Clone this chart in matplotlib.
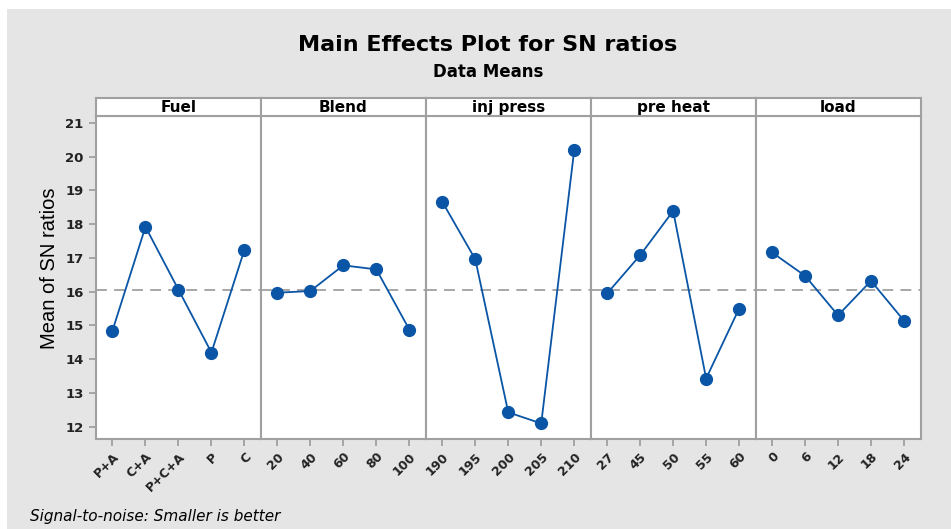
import numpy as np
import matplotlib.pyplot as plt
from matplotlib.patches import Rectangle

# data
factors = ["Fuel", "Blend", "inj press", "pre heat", "load"]
levels = [
    ["P+A", "C+A", "P+C+A", "P", "C"],
    ["20", "40", "60", "80", "100"],
    ["190", "195", "200", "205", "210"],
    ["27", "45", "50", "55", "60"],
    ["0", "6", "12", "18", "24"],
]
fuel_sn = [14.85, 17.92, 16.06, 14.20, 17.24]
blend_sn = [15.97, 16.02, 16.78, 16.66, 14.88]
injpress_sn = [18.66, 16.96, 12.43, 12.10, 20.19]
preheat_sn = [15.95, 17.08, 18.39, 13.43, 15.50]
load_sn = [17.16, 16.47, 15.30, 16.32, 15.14]
grand_mean = 16.06

series = [fuel_sn, blend_sn, injpress_sn, preheat_sn, load_sn]

W, H = 951, 529
fig = plt.figure(figsize=(W / 100, H / 100), dpi=100)
fig.patch.set_facecolor("white")

# gray backdrop
bg = Rectangle((7 / W, 0), 1 - 7 / W, 1 - 9 / H, transform=fig.transFigure,
               facecolor="#e5e5e5", edgecolor="none", zorder=-10)
fig.patches.append(bg)

gray = "#a0a0a0"
blue = "#0a55a5"

left, right = 96, 920.5
plot_bot, plot_top = 439, 116
strip_top = 97.5
pw = (right - left) / 5

ylo, yhi = 11.64, 21.2

for i, (name, labs, vals) in enumerate(zip(factors, levels, series)):
    x0 = left + i * pw
    ax = fig.add_axes([x0 / W, 1 - plot_bot / H, pw / W, (plot_bot - plot_top) / H])
    ax.set_facecolor("white")
    xs = np.arange(len(vals))
    ax.axhline(grand_mean, color=gray, lw=1.3, ls=(0, (6, 4)), zorder=1)
    ax.plot(xs, vals, color=blue, lw=1.3, marker="o", ms=8.5,
            mfc=blue, mec=blue, zorder=3)
    ax.set_xlim(-0.5, 4.5)
    ax.set_ylim(ylo, yhi)
    ax.set_xticks(xs)
    ax.set_xticklabels(labs, rotation=45, ha="right", rotation_mode="anchor",
                       fontsize=9, fontweight="bold", color="#222222")
    for s in ax.spines.values():
        s.set_color(gray)
        s.set_linewidth(1.5)
    ax.tick_params(axis="x", length=5, width=1.3, color=gray, pad=3)
    if i == 0:
        ax.set_yticks(range(12, 22))
        ax.set_yticklabels([str(v) for v in range(12, 22)],
                           fontsize=9.5, fontweight="bold", color="#222222")
        ax.tick_params(axis="y", length=5, width=1.3, color=gray, pad=4)
        ax.set_ylabel("Mean of SN ratios", fontsize=14.5, family="Liberation Sans")
        ax.yaxis.set_label_coords((59 - x0) / pw, 0.53)
    else:
        ax.set_yticks([])

    # strip header
    sax = fig.add_axes([x0 / W, 1 - plot_top / H, pw / W, (plot_top - strip_top) / H])
    sax.set_facecolor("white")
    sax.set_xticks([])
    sax.set_yticks([])
    for s in sax.spines.values():
        s.set_color(gray)
        s.set_linewidth(1.5)
    sax.text(0.5, 0.45, name, ha="center", va="center", fontsize=11,
             fontweight="bold", transform=sax.transAxes)

fig.text(488 / W, 1 - 45 / H, "Main Effects Plot for SN ratios", ha="center",
         va="center", fontsize=16, fontweight="bold")
fig.text(488 / W, 1 - 72 / H, "Data Means", ha="center", va="center",
         fontsize=12, fontweight="bold")
fig.text(30 / W, 1 - 516 / H, "Signal-to-noise: Smaller is better",
         ha="left", va="center", fontsize=11, style="italic")

fig.savefig("out.png", dpi=100, facecolor=fig.get_facecolor())
